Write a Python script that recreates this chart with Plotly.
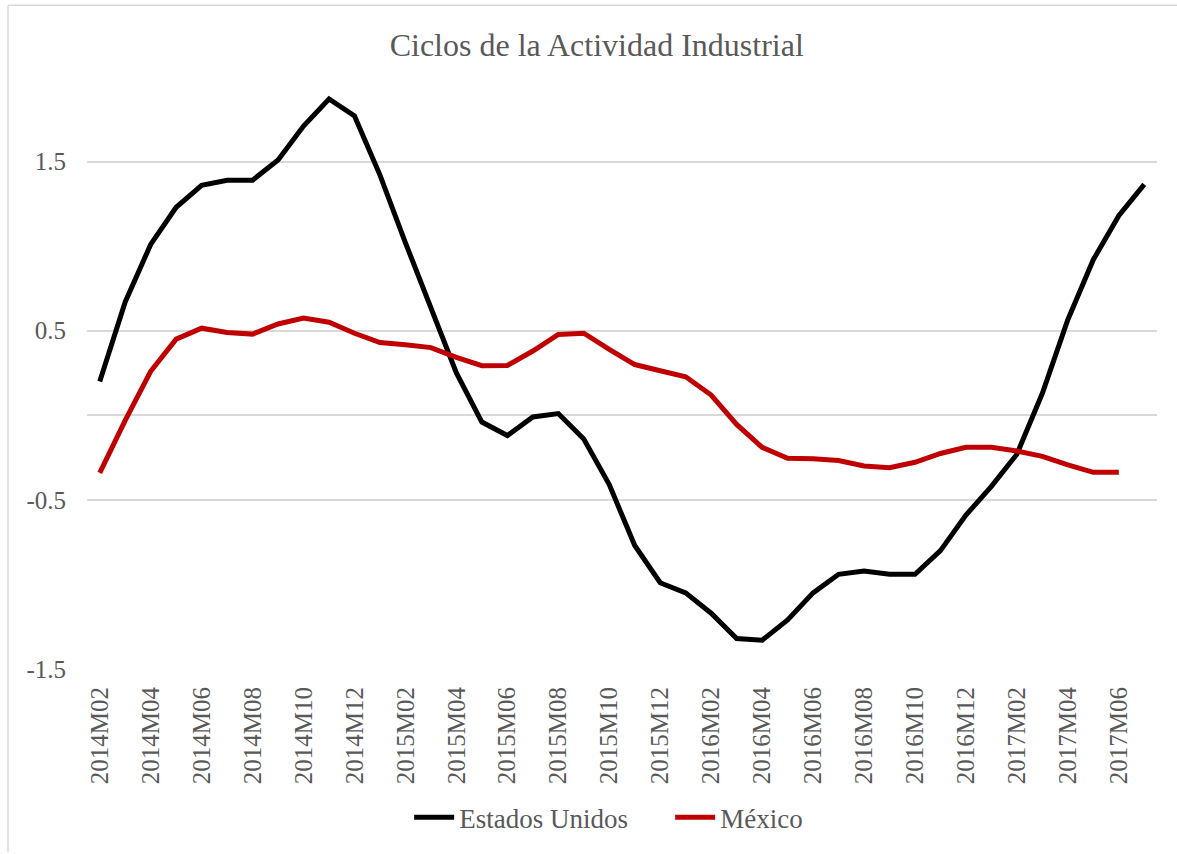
import plotly.graph_objects as go

months = []
for y in range(2014, 2018):
    for m in range(1, 13):
        months.append(f"{y}M{m:02d}")
categories = months[months.index("2014M02"):months.index("2017M07") + 1]

estados_unidos = [
    0.20, 0.67, 1.01, 1.23, 1.36, 1.39, 1.39, 1.51, 1.71, 1.87,
    1.77, 1.42, 1.02, 0.63, 0.25, -0.04, -0.12, -0.01, 0.01, -0.14,
    -0.41, -0.77, -0.99, -1.05, -1.17, -1.32, -1.33, -1.21, -1.05, -0.94,
    -0.92, -0.94, -0.94, -0.80, -0.59, -0.42, -0.23, 0.13, 0.565, 0.92,
    1.18, 1.365,
]
mexico = [
    -0.34, -0.03, 0.26, 0.45, 0.515, 0.49, 0.48, 0.54, 0.575, 0.55,
    0.485, 0.43, 0.417, 0.40, 0.343, 0.293, 0.295, 0.38, 0.478, 0.485,
    0.39, 0.30, 0.263, 0.228, 0.12, -0.054, -0.19, -0.254, -0.257, -0.267,
    -0.30, -0.31, -0.278, -0.226, -0.189, -0.189, -0.211, -0.243, -0.293, -0.337,
    -0.337,
]

y_ticks = [-1.5, -0.5, 0.5, 1.5]
x_ticks = categories[::2]

TXT = "#595959"
FONT = "Liberation Serif"

fig = go.Figure()
fig.add_trace(go.Scatter(
    x=categories[:len(estados_unidos)], y=estados_unidos, mode="lines",
    name="Estados Unidos", line=dict(color="#000000", width=5),
))
fig.add_trace(go.Scatter(
    x=categories[:len(mexico)], y=mexico, mode="lines",
    name="México", line=dict(color="#C00000", width=5),
))

fig.update_layout(
    width=1177, height=854,
    margin=dict(l=87, r=20, t=77, b=183),
    paper_bgcolor="white", plot_bgcolor="white",
    font=dict(family=FONT, color=TXT, size=25),
    title=dict(text="Ciclos de la Actividad Industrial", x=0.507, xanchor="center",
               y=0.948, yanchor="middle", font=dict(size=32, color=TXT, family=FONT)),
    showlegend=True,
    legend=dict(orientation="h", x=0.545, xanchor="center", y=-0.251, yanchor="middle",
                font=dict(size=27, color=TXT, family=FONT), itemwidth=40,
                entrywidth=206, entrywidthmode="pixels",
                bgcolor="rgba(0,0,0,0)"),
    xaxis=dict(
        type="category", categoryorder="array", categoryarray=categories,
        range=[-0.5, len(categories) - 0.5],
        tickmode="array", tickvals=x_ticks, ticktext=x_ticks,
        tickangle=-90, showgrid=False, showline=False, zeroline=False,
        ticks="", ticklabelstandoff=12, tickfont=dict(size=25, color=TXT, family=FONT),
    ),
    yaxis=dict(
        range=[-1.5, 2.0], tickmode="array", tickvals=y_ticks,
        ticktext=[str(v) for v in y_ticks],
        showgrid=True, gridcolor="#D9D9D9", gridwidth=1.5,
        zeroline=True, zerolinecolor="#D9D9D9", zerolinewidth=1.5,
        showline=False, ticks="", ticklabelstandoff=20,
        tickfont=dict(size=25, color=TXT, family=FONT),
    ),
    shapes=[
        dict(type="line", xref="paper", yref="paper",
             x0=(8 - 87) / 1070, x1=(1177 - 87) / 1070,
             y0=(671 - 5) / 594, y1=(671 - 5) / 594,
             line=dict(color="#D9D9D9", width=1.5)),
        dict(type="line", xref="paper", yref="paper",
             x0=(8 - 87) / 1070, x1=(8 - 87) / 1070,
             y0=(671 - 5) / 594, y1=(671 - 854) / 594,
             line=dict(color="#D9D9D9", width=1.5)),
    ],
)

fig.write_html(
    "out.html",
    config={"displayModeBar": False},
    post_script="document.body.style.margin='0';document.body.style.overflow='hidden';",
)
